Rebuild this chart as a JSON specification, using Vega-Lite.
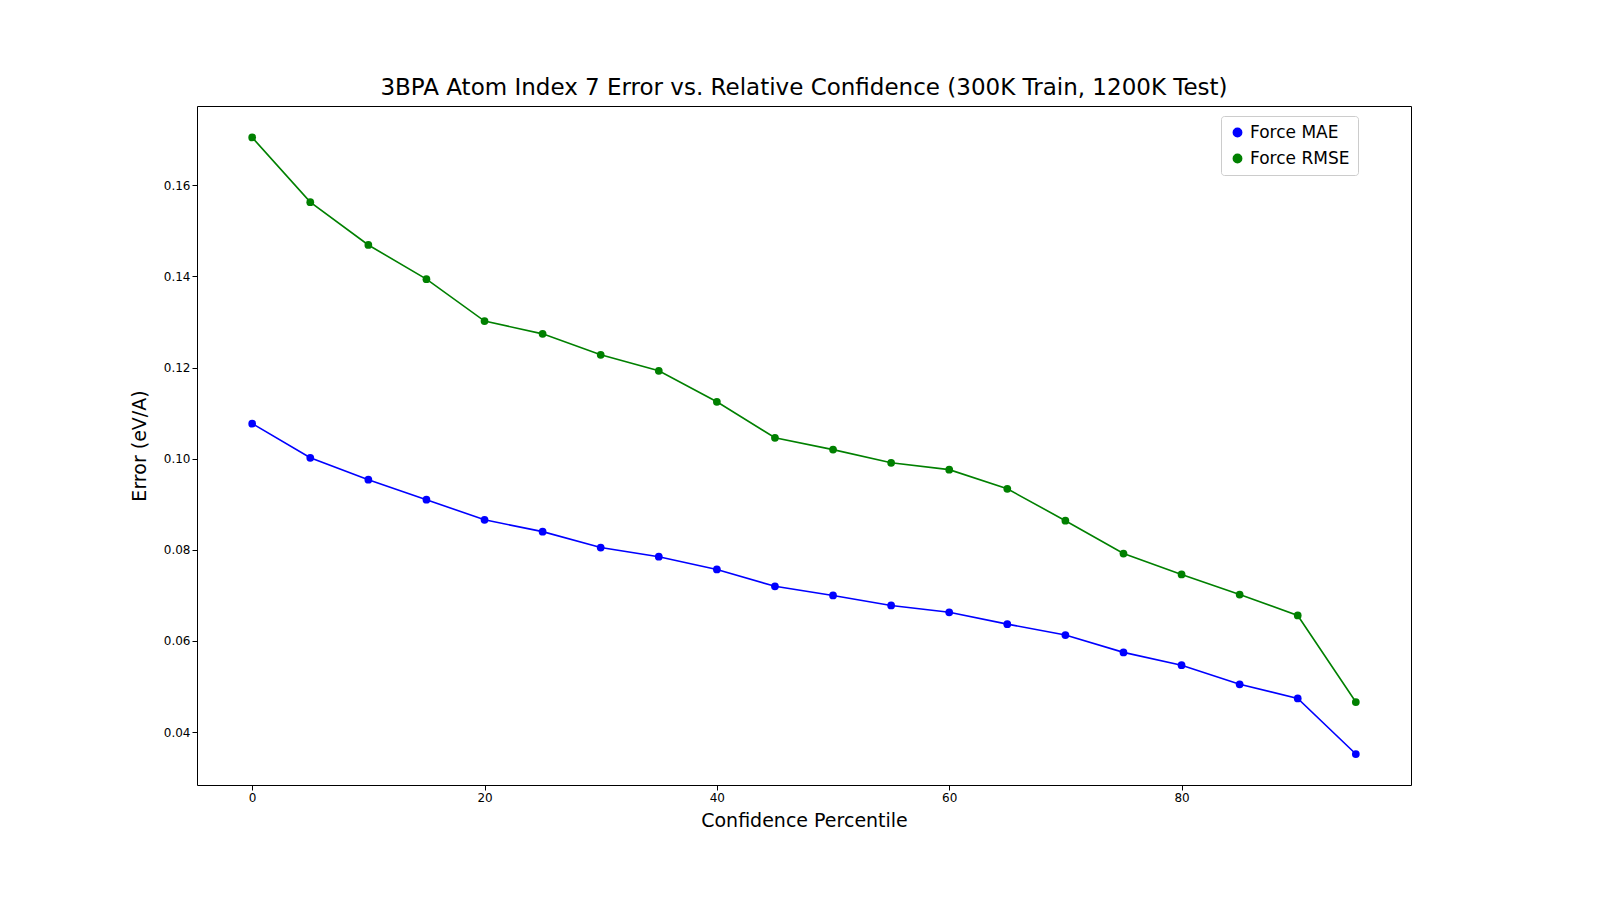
{
  "$schema": "https://vega.github.io/schema/vega-lite/v6.json",
  "width": 1214,
  "height": 679,
  "autosize": {"type": "none"},
  "padding": {"left": 197, "top": 106, "right": 189, "bottom": 115},
  "background": "white",
  "title": {"text": "3BPA Atom Index 7 Error vs. Relative Confidence (300K Train, 1200K Test)", "fontSize": 23, "font": "DejaVu Sans", "fontWeight": "normal", "offset": 6},
  "config": {"view": {"stroke": "black"}, "font": "DejaVu Sans"},
  "data": {"values": [
    {"p": 0, "s": "Force MAE", "v": 0.1077}, {"p": 5, "s": "Force MAE", "v": 0.1002}, {"p": 10, "s": "Force MAE", "v": 0.0954}, {"p": 15, "s": "Force MAE", "v": 0.0910}, {"p": 20, "s": "Force MAE", "v": 0.0866}, {"p": 25, "s": "Force MAE", "v": 0.0840}, {"p": 30, "s": "Force MAE", "v": 0.0805}, {"p": 35, "s": "Force MAE", "v": 0.0785}, {"p": 40, "s": "Force MAE", "v": 0.0757}, {"p": 45, "s": "Force MAE", "v": 0.0720}, {"p": 50, "s": "Force MAE", "v": 0.0700}, {"p": 55, "s": "Force MAE", "v": 0.0678}, {"p": 60, "s": "Force MAE", "v": 0.0663}, {"p": 65, "s": "Force MAE", "v": 0.0637}, {"p": 70, "s": "Force MAE", "v": 0.0613}, {"p": 75, "s": "Force MAE", "v": 0.0575}, {"p": 80, "s": "Force MAE", "v": 0.0547}, {"p": 85, "s": "Force MAE", "v": 0.0505}, {"p": 90, "s": "Force MAE", "v": 0.0474}, {"p": 95, "s": "Force MAE", "v": 0.0352},
    {"p": 0, "s": "Force RMSE", "v": 0.1705}, {"p": 5, "s": "Force RMSE", "v": 0.1563}, {"p": 10, "s": "Force RMSE", "v": 0.1469}, {"p": 15, "s": "Force RMSE", "v": 0.1394}, {"p": 20, "s": "Force RMSE", "v": 0.1302}, {"p": 25, "s": "Force RMSE", "v": 0.1274}, {"p": 30, "s": "Force RMSE", "v": 0.1228}, {"p": 35, "s": "Force RMSE", "v": 0.1193}, {"p": 40, "s": "Force RMSE", "v": 0.1125}, {"p": 45, "s": "Force RMSE", "v": 0.1046}, {"p": 50, "s": "Force RMSE", "v": 0.1020}, {"p": 55, "s": "Force RMSE", "v": 0.0991}, {"p": 60, "s": "Force RMSE", "v": 0.0976}, {"p": 65, "s": "Force RMSE", "v": 0.0934}, {"p": 70, "s": "Force RMSE", "v": 0.0864}, {"p": 75, "s": "Force RMSE", "v": 0.0792}, {"p": 80, "s": "Force RMSE", "v": 0.0746}, {"p": 85, "s": "Force RMSE", "v": 0.0702}, {"p": 90, "s": "Force RMSE", "v": 0.0656}, {"p": 95, "s": "Force RMSE", "v": 0.0466}
  ]},
  "mark": {"type": "line", "point": {"size": 60, "filled": true, "opacity": 1}, "strokeWidth": 1.6},
  "encoding": {
    "x": {"field": "p", "type": "quantitative", "title": "Confidence Percentile",
      "scale": {"domain": [-4.75, 99.75], "nice": false, "zero": false},
      "axis": {"values": [0, 20, 40, 60, 80], "grid": false, "labelFontSize": 12, "titleFontSize": 19, "titleFontWeight": "normal", "domain": false, "tickColor": "black", "labelColor": "black", "titlePadding": 8}},
    "y": {"field": "v", "type": "quantitative", "title": "Error (eV/A)",
      "scale": {"domain": [0.0284, 0.1774], "nice": false, "zero": false},
      "axis": {"values": [0.04, 0.06, 0.08, 0.1, 0.12, 0.14, 0.16], "format": ".2f", "grid": false, "labelFontSize": 12, "titleFontSize": 19, "titleFontWeight": "normal", "domain": false, "tickColor": "black", "labelColor": "black", "titlePadding": 14}},
    "color": {"field": "s", "type": "nominal", "title": null,
      "scale": {"domain": ["Force MAE", "Force RMSE"], "range": ["blue", "green"]},
      "legend": {"orient": "none", "legendX": 1024, "legendY": 10, "labelFontSize": 17, "symbolType": "circle", "symbolSize": 70, "fillColor": "white", "strokeColor": "#cccccc", "padding": 8, "cornerRadius": 3, "rowPadding": 8, "symbolOpacity": 1}}
  }
}
